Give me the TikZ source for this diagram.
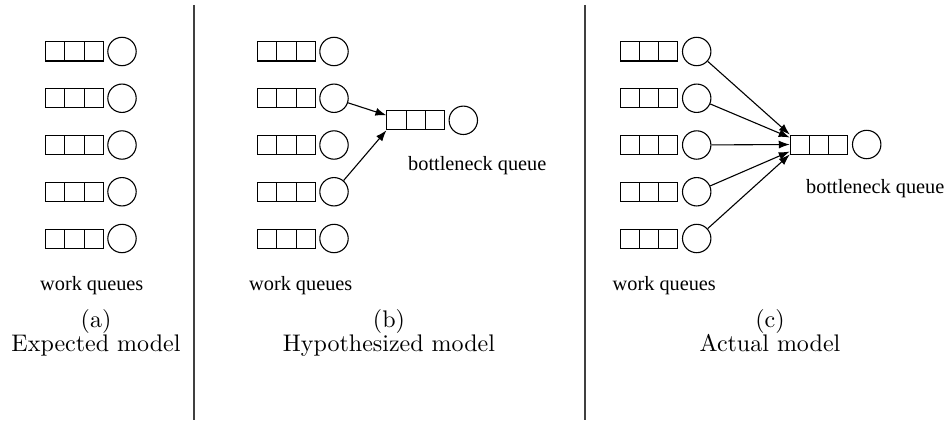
\documentclass[tikz,border=0pt]{standalone}
\usepackage{fontspec}
\newfontfamily\labfont{Liberation Serif}
\newfontfamily\capfont[Extension=.otf]{lmroman10-regular}
\usetikzlibrary{calc,arrows.meta}
\tikzset{
  queue/.style={draw, line width=1pt, minimum width=57.5pt, minimum height=19pt, inner sep=0pt,
    path picture={
      \draw[line width=1pt] ($(path picture bounding box.south west)!1/3!(path picture bounding box.south east)$) -- ($(path picture bounding box.north west)!1/3!(path picture bounding box.north east)$);
      \draw[line width=1pt] ($(path picture bounding box.south west)!2/3!(path picture bounding box.south east)$) -- ($(path picture bounding box.north west)!2/3!(path picture bounding box.north east)$);
    }},
  server/.style={draw, circle, line width=1.1pt, minimum size=28.4pt, inner sep=0pt},
  lab/.style={font=\labfont\fontsize{20.3}{24}\selectfont, inner sep=0pt, anchor=base west},
  captext/.style={font=\capfont\fontsize{24}{26}\selectfont, inner sep=0pt, anchor=base},
  sepline/.style={line width=1.4pt, draw=black!75},
  arr/.style={line width=1.1pt, -{Latex[length=11pt,width=8pt]}}
}
\begin{document}
\begin{tikzpicture}[x=1pt,y=-1pt]
\useasboundingbox (0,0) rectangle (952,420);
% separators
\coordinate (s1t) at (194,5); \coordinate (s1b) at (194,420);
\coordinate (s2t) at (585,5); \coordinate (s2b) at (585,420);
\draw[sepline] (s1t) -- (s1b);
\draw[sepline] (s2t) -- (s2b);
% work queues
\foreach \i in {1,...,5}{
  \node[queue] (qa\i) at (74.5,{51.5+(\i-1)*46.75}) {};
  \node[server] (sa\i) at (122,{51.5+(\i-1)*46.75}) {};
  \node[queue] (qb\i) at (286.5,{51.5+(\i-1)*46.75}) {};
  \node[server] (sb\i) at (334,{51.5+(\i-1)*46.75}) {};
  \node[queue] (qc\i) at (649.2,{51.5+(\i-1)*46.75}) {};
  \node[server] (sc\i) at (696.7,{51.5+(\i-1)*46.75}) {};
}
% bottleneck queues
\node[queue] (bb) at (415.7,120.3) {};
\node[server] (bbs) at (463.3,120.3) {};
\node[queue] (bc) at (819,144.5) {};
\node[server] (bcs) at (866.7,144.5) {};
% arrows (b)
\draw[arr] (sb2) -- ($(bb.west)+(0,-5)$);
\draw[arr] (sb4) -- (bb.south west);
% arrows (c)
\draw[arr] (sc1) -- (bc.north west);
\draw[arr] (sc2) -- ($(bc.west)!0.7!(bc.north west)$);
\draw[arr] (sc3) -- (bc.west);
\draw[arr] (sc4) -- ($(bc.west)!0.7!(bc.south west)$);
\draw[arr] (sc5) -- (bc.south west);
% labels
\node[lab] (wa) at (40,290) {work queues};
\node[lab] (wb) at (249,290) {work queues};
\node[lab] (wc) at (612.5,290) {work queues};
\node[lab] (bla) at (408,170) {bottleneck queue};
\node[lab] (blc) at (806,193.5) {bottleneck queue};
% captions
\node[captext] (ca) at (96,327.5) {(a)};
\node[captext] (cat) at (96,351.5) {Expected model};
\node[captext] (cb) at (389,327.5) {(b)};
\node[captext] (cbt) at (389,351.5) {Hypothesized model};
\node[captext] (cc) at (770,327.5) {(c)};
\node[captext] (cct) at (770,351.5) {Actual model};
\end{tikzpicture}
\end{document}
